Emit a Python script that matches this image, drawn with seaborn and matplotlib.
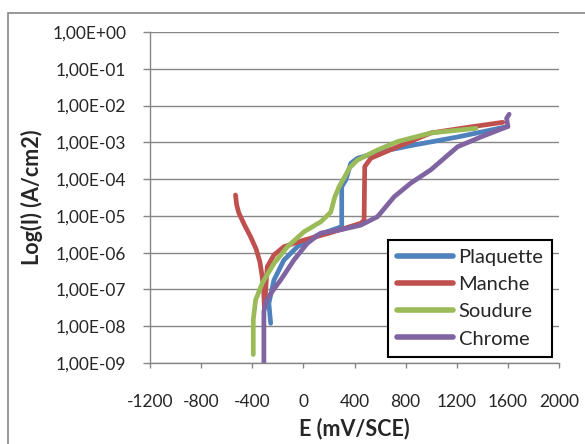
import numpy as np
import pandas as pd
import matplotlib
matplotlib.use('Agg')
import matplotlib.pyplot as plt
import seaborn as sns
from matplotlib.ticker import FixedLocator, FuncFormatter
from matplotlib.patches import Rectangle

# courbes de polarisation (E en mV/SCE, I en A/cm2)
plaquette_E = [-256, -270, -230, -152, -47, 110, 300, 300, 332, 371, 423, 606, 868, 1208, 1600]
plaquette_I = [1.2e-8, 4.2e-8, 1.8e-7, 6.3e-7, 1.45e-6, 3.0e-6, 5.1e-6, 6.2e-5, 9.5e-5,
               2.7e-4, 3.7e-4, 5.6e-4, 8.5e-4, 1.4e-3, 2.7e-3]

manche_E = [-531, -522, -505, -460, -413, -370, -340, -322, -310, -305, -298, -290, -282,
            -230, -152, 5, 214, 449, 475, 480, 528, 737, 998, 1300, 1560]
manche_I = [3.7e-5, 2.0e-5, 1.2e-5, 5.6e-6, 2.7e-6, 1.26e-6, 5.6e-7, 2.2e-7, 7.9e-8, 3.2e-8,
            6.3e-8, 1.8e-7, 4.2e-7, 8.7e-7, 1.45e-6, 2.2e-6, 3.5e-6, 6.3e-6, 7.6e-6,
            2.2e-4, 3.7e-4, 7.6e-4, 1.8e-3, 2.6e-3, 3.5e-3]

soudure_E = [-392, -392, -374, -321, -230, -125, 5, 136, 214, 245, 280, 320, 360, 423,
             580, 737, 998, 1351]
soudure_I = [1.7e-9, 1.5e-8, 5.1e-8, 1.5e-7, 5.1e-7, 1.45e-6, 3.7e-6, 6.9e-6, 1.26e-5,
             3.2e-5, 6.3e-5, 1.1e-4, 2.0e-4, 3.3e-4, 6.2e-4, 1.05e-3, 1.8e-3, 2.4e-3]

chrome_E = [-309, -309, -290, -243, -178, -74, 31, 136, 292, 449, 580, 710, 841, 998,
            1207, 1389, 1600, 1590, 1610]
chrome_I = [1.0e-9, 2.5e-8, 5.0e-8, 8.9e-8, 1.8e-7, 6.3e-7, 1.8e-6, 3.4e-6, 4.2e-6,
            5.6e-6, 9.5e-6, 3.3e-5, 7.8e-5, 1.8e-4, 7.6e-4, 1.4e-3, 2.7e-3, 4.5e-3, 5.8e-3]

series = ['Plaquette', 'Manche', 'Soudure', 'Chrome']
colors = ['#4F81BD', '#C0504D', '#9BBB59', '#8064A2']
x_ticks = [-1200, -800, -400, 0, 400, 800, 1200, 1600, 2000]
y_ticks = [1e-9, 1e-8, 1e-7, 1e-6, 1e-5, 1e-4, 1e-3, 1e-2, 1e-1, 1e0]

df = pd.concat([
    pd.DataFrame({'E': plaquette_E, 'I': plaquette_I, 'serie': 'Plaquette'}),
    pd.DataFrame({'E': manche_E, 'I': manche_I, 'serie': 'Manche'}),
    pd.DataFrame({'E': soudure_E, 'I': soudure_I, 'serie': 'Soudure'}),
    pd.DataFrame({'E': chrome_E, 'I': chrome_I, 'serie': 'Chrome'}),
], ignore_index=True)

sns.set_style('white')
plt.rcParams['font.family'] = ['Lato', 'DejaVu Sans']
plt.rcParams['axes.unicode_minus'] = False

fig = plt.figure(figsize=(5.85, 4.44), dpi=100)
ax = fig.add_axes([150 / 585, 1 - 363 / 444, 409 / 585, 331 / 444])

# cadre gris autour de la figure
fig.patches.append(Rectangle((8 / 585, -0.1), 1.2, 1.1 - 13 / 444, transform=fig.transFigure,
                             fill=False, edgecolor='#868686', linewidth=1.2))

g = sns.lineplot(data=df, x='E', y='I', hue='serie', hue_order=series, palette=colors,
                 sort=False, estimator=None, linewidth=3.4, ax=ax)
for line in ax.lines:
    line.set_solid_capstyle('round')
    line.set_solid_joinstyle('round')

ax.set_yscale('log')
ax.set_xlim(-1200, 2000)
ax.set_ylim(1e-9, 1)
ax.xaxis.set_major_locator(FixedLocator(x_ticks))
ax.yaxis.set_major_locator(FixedLocator(y_ticks))
ax.yaxis.set_minor_locator(FixedLocator([]))
ax.yaxis.set_major_formatter(FuncFormatter(lambda v, p: '1,00E{:+03d}'.format(int(round(np.log10(v))))))
ax.grid(axis='y', color='#868686', linewidth=1)
ax.grid(axis='x', visible=False)
ax.set_axisbelow(True)

for s in ['top', 'right']:
    ax.spines[s].set_visible(False)
for s in ['left', 'bottom']:
    ax.spines[s].set_color('#868686')
    ax.spines[s].set_linewidth(1)

ax.tick_params(axis='x', direction='out', length=3.5, width=1, color='#868686',
               pad=19, labelsize=12.5, bottom=True)
ax.tick_params(axis='y', direction='out', length=5, width=1, color='#868686',
               pad=12, labelsize=12.5, left=True)

ax.set_xlabel('E (mV/SCE)', fontsize=15.5, fontweight='bold')
ax.set_ylabel('Log(I) (A/cm2)', fontsize=15.5, fontweight='bold')
ax.xaxis.set_label_coords(0.5, -0.165)
ax.yaxis.set_label_coords(-0.262, 0.5)

leg = ax.legend(loc='upper left', bbox_to_anchor=(0.582, 0.372), borderaxespad=0,
                fontsize=14.5, frameon=True, fancybox=False, handlelength=2.8,
                labelspacing=0.5, handletextpad=0.25, borderpad=0.45, title=None)
leg.get_frame().set_edgecolor('black')
leg.get_frame().set_linewidth(1.5)
leg.get_frame().set_alpha(1)
for h in leg.get_lines():
    h.set_linewidth(4)
    h.set_solid_capstyle('round')

fig.savefig('out.png', dpi=100)
